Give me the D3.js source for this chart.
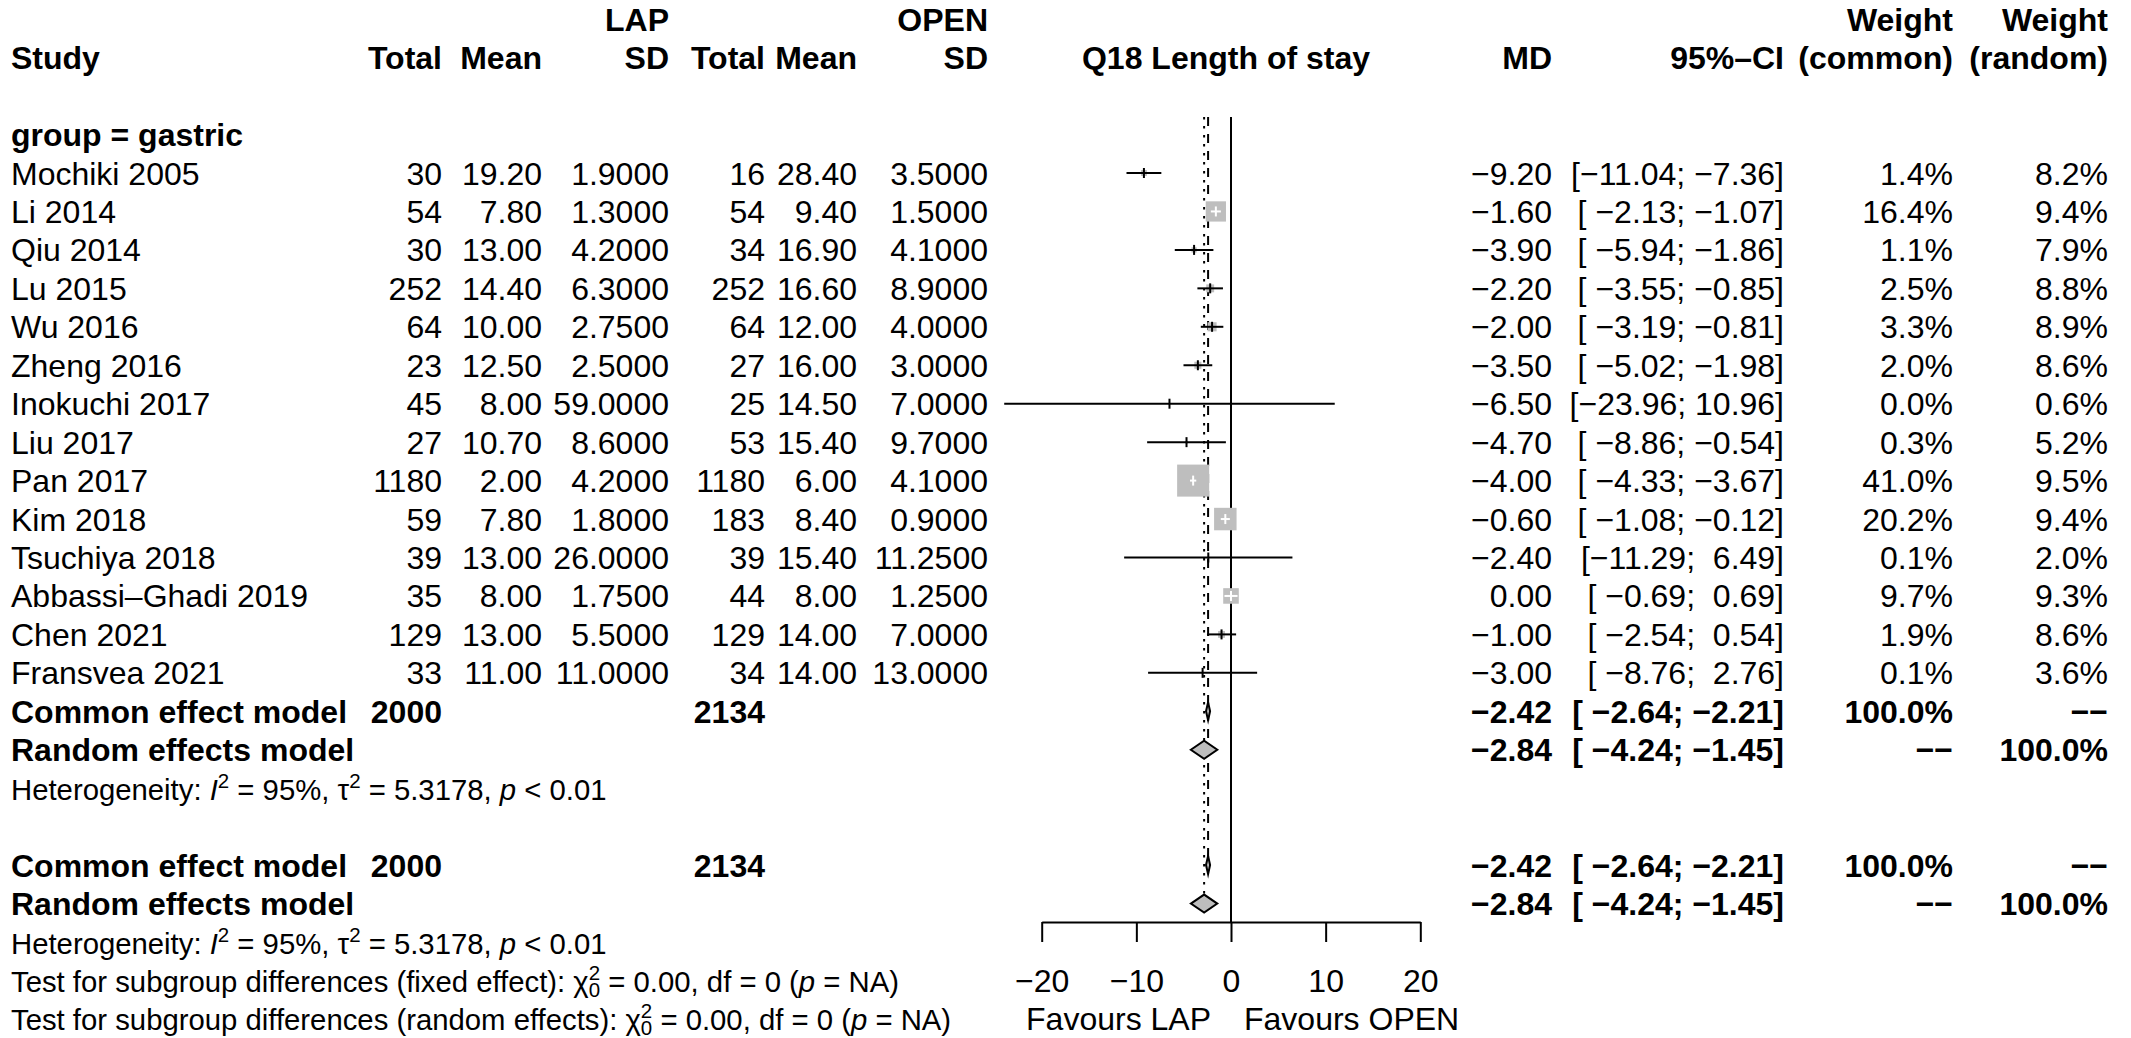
<!DOCTYPE html>
<html>
<head>
<meta charset="utf-8">
<script src="https://cdn.jsdelivr.net/npm/d3@7"></script>
<style>
  html, body { margin: 0; padding: 0; background: #fff; }
  svg text { font-family: "Liberation Sans", Arial, Helvetica, sans-serif; white-space: pre; }
</style>
</head>
<body>
<svg id="chart" width="2131" height="1038"></svg>
<script>
// ---------------- data ----------------
const studies = ["Mochiki 2005","Li 2014","Qiu 2014","Lu 2015","Wu 2016","Zheng 2016","Inokuchi 2017","Liu 2017","Pan 2017","Kim 2018","Tsuchiya 2018","Abbassi–Ghadi 2019","Chen 2021","Fransvea 2021"];
const lapTotal  = [30,54,30,252,64,23,45,27,1180,59,39,35,129,33];
const lapMean   = [19.20,7.80,13.00,14.40,10.00,12.50,8.00,10.70,2.00,7.80,13.00,8.00,13.00,11.00];
const lapSD     = [1.9,1.3,4.2,6.3,2.75,2.5,59,8.6,4.2,1.8,26,1.75,5.5,11];
const openTotal = [16,54,34,252,64,27,25,53,1180,183,39,44,129,34];
const openMean  = [28.40,9.40,16.90,16.60,12.00,16.00,14.50,15.40,6.00,8.40,15.40,8.00,14.00,14.00];
const openSD    = [3.5,1.5,4.1,8.9,4,3,7,9.7,4.1,0.9,11.25,1.25,7,13];
const md        = [-9.20,-1.60,-3.90,-2.20,-2.00,-3.50,-6.50,-4.70,-4.00,-0.60,-2.40,0.00,-1.00,-3.00];
const ciLower   = [-11.04,-2.13,-5.94,-3.55,-3.19,-5.02,-23.96,-8.86,-4.33,-1.08,-11.29,-0.69,-2.54,-8.76];
const ciUpper   = [-7.36,-1.07,-1.86,-0.85,-0.81,-1.98,10.96,-0.54,-3.67,-0.12,6.49,0.69,0.54,2.76];
const wCommon   = [1.4,16.4,1.1,2.5,3.3,2.0,0.0,0.3,41.0,20.2,0.1,9.7,1.9,0.1];
const wRandom   = [8.2,9.4,7.9,8.8,8.9,8.6,0.6,5.2,9.5,9.4,2.0,9.3,8.6,3.6];

const groupLabel = "group = gastric";
const totalLap = 2000, totalOpen = 2134;
const commonEst = [-2.42, -2.64, -2.21];
const randomEst = [-2.84, -4.24, -1.45];
const axisTicks = [-20, -10, 0, 10, 20];
const headerTop = ["LAP", "OPEN", "Weight", "Weight"];
const headerCols = ["Study","Total","Mean","SD","Total","Mean","SD","Q18 Length of stay","MD","95%–CI","(common)","(random)"];
const hetText = { I2: "95%", tau2: "5.3178", p: "< 0.01" };
const labelLeft = "Favours LAP", labelRight = "Favours OPEN";

// ---------------- layout ----------------
const FS = 32, FSH = 29.3, rowH = 38.45, y0 = 173, base = 11.5;
const rowY = k => y0 + k * rowH;
const colX = { study: 11, lapT: 442, lapM: 542, lapS: 669, opT: 765, opM: 857, opS: 988,
               md: 1552, ci: 1784, wc: 1953, wr: 2108, plotC: 1226 };
const x = d3.scaleLinear().domain([-20, 20]).range([1041.7, 1420.3]);
const svg = d3.select("#chart");
const MINUS = "\u2212";

const fmt = (v, d) => v.toFixed(d).replace("-", MINUS);
const pad = (s, n) => s.padStart(n, " ");
const ciStr = (lo, hi) => "[" + pad(fmt(lo, 2), 6) + "; " + pad(fmt(hi, 2), 5) + "]";

function txt(xp, k, s, anchor = "end", bold = false, fs = FS) {
  return svg.append("text")
    .attr("x", xp).attr("y", rowY(k) + base)
    .attr("text-anchor", anchor)
    .attr("font-size", fs)
    .attr("font-weight", bold ? "bold" : "normal")
    .text(s);
}

// headers
txt(colX.lapS, -4, headerTop[0], "end", true);
txt(colX.opS, -4, headerTop[1], "end", true);
txt(colX.wc, -4, headerTop[2], "end", true);
txt(colX.wr, -4, headerTop[3], "end", true);
const hx = [colX.study, colX.lapT, colX.lapM, colX.lapS, colX.opT, colX.opM, colX.opS, colX.plotC, colX.md, colX.ci, colX.wc, colX.wr];
headerCols.forEach((h, i) => txt(hx[i], -3, h, i === 0 ? "start" : (i === 7 ? "middle" : "end"), true));

txt(colX.study, -1, groupLabel, "start", true);

// study rows text
studies.forEach((s, i) => {
  txt(colX.study, i, s, "start");
  txt(colX.lapT, i, String(lapTotal[i]));
  txt(colX.lapM, i, fmt(lapMean[i], 2));
  txt(colX.lapS, i, fmt(lapSD[i], 4));
  txt(colX.opT, i, String(openTotal[i]));
  txt(colX.opM, i, fmt(openMean[i], 2));
  txt(colX.opS, i, fmt(openSD[i], 4));
  txt(colX.md, i, fmt(md[i], 2));
  txt(colX.ci, i, ciStr(ciLower[i], ciUpper[i]));
  txt(colX.wc, i, wCommon[i].toFixed(1) + "%");
  txt(colX.wr, i, wRandom[i].toFixed(1) + "%");
});

function modelRows(kc, kr) {
  txt(colX.study, kc, "Common effect model", "start", true);
  txt(colX.lapT, kc, String(totalLap), "end", true);
  txt(colX.opT, kc, String(totalOpen), "end", true);
  txt(colX.md, kc, fmt(commonEst[0], 2), "end", true);
  txt(colX.ci, kc, ciStr(commonEst[1], commonEst[2]), "end", true);
  txt(colX.wc, kc, "100.0%", "end", true);
  txt(colX.wr, kc, MINUS + MINUS, "end", true);
  txt(colX.study, kr, "Random effects model", "start", true);
  txt(colX.md, kr, fmt(randomEst[0], 2), "end", true);
  txt(colX.ci, kr, ciStr(randomEst[1], randomEst[2]), "end", true);
  txt(colX.wc, kr, MINUS + MINUS, "end", true);
  txt(colX.wr, kr, "100.0%", "end", true);
}
modelRows(14, 15);
modelRows(18, 19);

const SUP = 20.5;
function hetRow(k) {
  const t = txt(colX.study, k, "", "start", false, FSH);
  t.append("tspan").text("Heterogeneity: ");
  t.append("tspan").attr("font-style", "italic").text("I");
  t.append("tspan").attr("font-size", SUP).attr("dy", -12).text("2");
  t.append("tspan").attr("dy", 12).text(" = " + hetText.I2 + ", τ");
  t.append("tspan").attr("font-size", SUP).attr("dy", -12).text("2");
  t.append("tspan").attr("dy", 12).text(" = " + hetText.tau2 + ", ");
  t.append("tspan").attr("font-style", "italic").text("p");
  t.append("tspan").text(" " + hetText.p);
}
hetRow(16);
hetRow(20);

function testRow(k, label) {
  const t = txt(colX.study, k, "", "start", false, FSH);
  t.append("tspan").text("Test for subgroup differences (" + label + "): χ");
  t.append("tspan").attr("font-size", SUP).attr("dy", -12).text("2");
  t.append("tspan").attr("font-size", SUP).attr("dx", -11.4).attr("dy", 17).text("0");
  t.append("tspan").attr("dy", -5).text(" = 0.00, df = 0 (");
  t.append("tspan").attr("font-style", "italic").text("p");
  t.append("tspan").text(" = NA)");
}
testRow(21, "fixed effect");
testRow(22, "random effects");

// ---------------- plot ----------------
const lw = 2;
const yTop = 117, yAxis = 922;
// reference lines
svg.append("line").attr("x1", x(0)).attr("x2", x(0)).attr("y1", yTop).attr("y2", yAxis)
  .attr("stroke", "#000").attr("stroke-width", lw);
svg.append("line").attr("x1", x(commonEst[0])).attr("x2", x(commonEst[0]))
  .attr("y1", yTop).attr("y2", rowY(18))
  .attr("stroke", "#000").attr("stroke-width", lw).attr("stroke-dasharray", "9,8");
svg.append("line").attr("x1", x(randomEst[0])).attr("x2", x(randomEst[0]))
  .attr("y1", yTop).attr("y2", rowY(19) - 9)
  .attr("stroke", "#000").attr("stroke-width", lw).attr("stroke-dasharray", "2.5,6.5");

// study boxes + CIs
const boxSide = w => 5 * Math.sqrt(w);
studies.forEach((s, i) => {
  const cy = rowY(i), cx = x(md[i]), side = boxSide(wCommon[i]);
  if (side > 0) {
    svg.append("rect").attr("x", cx - side / 2).attr("y", cy - side / 2)
      .attr("width", side).attr("height", side).attr("fill", "#bebebe");
  }
  const inside = (x(ciUpper[i]) - x(ciLower[i])) < side && side > 12;
  const col = inside ? "#fff" : "#000";
  svg.append("line").attr("x1", x(ciLower[i])).attr("x2", x(ciUpper[i]))
    .attr("y1", cy).attr("y2", cy).attr("stroke", col).attr("stroke-width", lw);
  svg.append("line").attr("x1", cx).attr("x2", cx).attr("y1", cy - 5).attr("y2", cy + 5)
    .attr("stroke", col).attr("stroke-width", lw);
});

// diamonds
function diamond(k, est) {
  const cy = rowY(k), h = 9;
  const pts = [[x(est[1]), cy], [x(est[0]), cy - h], [x(est[2]), cy], [x(est[0]), cy + h]];
  svg.append("polygon").attr("points", pts.map(p => p.join(",")).join(" "))
    .attr("fill", "#bebebe").attr("stroke", "#000").attr("stroke-width", lw)
    .attr("stroke-miterlimit", 10);
}
diamond(14, commonEst); diamond(15, randomEst);
diamond(18, commonEst); diamond(19, randomEst);

// axis
const axis = d3.axisBottom(x).tickValues(axisTicks).tickSize(20).tickSizeOuter(0).tickPadding(27);
const gAxis = svg.append("g").attr("transform", `translate(0,${yAxis})`).call(axis);
gAxis.selectAll("path, line").attr("stroke", "#000").attr("stroke-width", lw);
gAxis.selectAll("text").attr("font-size", FS).attr("fill", "#000")
  .attr("font-family", '"Liberation Sans", Arial, sans-serif');

// favour labels
svg.append("text").attr("x", 1211).attr("y", rowY(22) + base).attr("text-anchor", "end")
  .attr("font-size", FS).text(labelLeft);
svg.append("text").attr("x", 1244).attr("y", rowY(22) + base).attr("text-anchor", "start")
  .attr("font-size", FS).text(labelRight);
</script>
</body>
</html>
